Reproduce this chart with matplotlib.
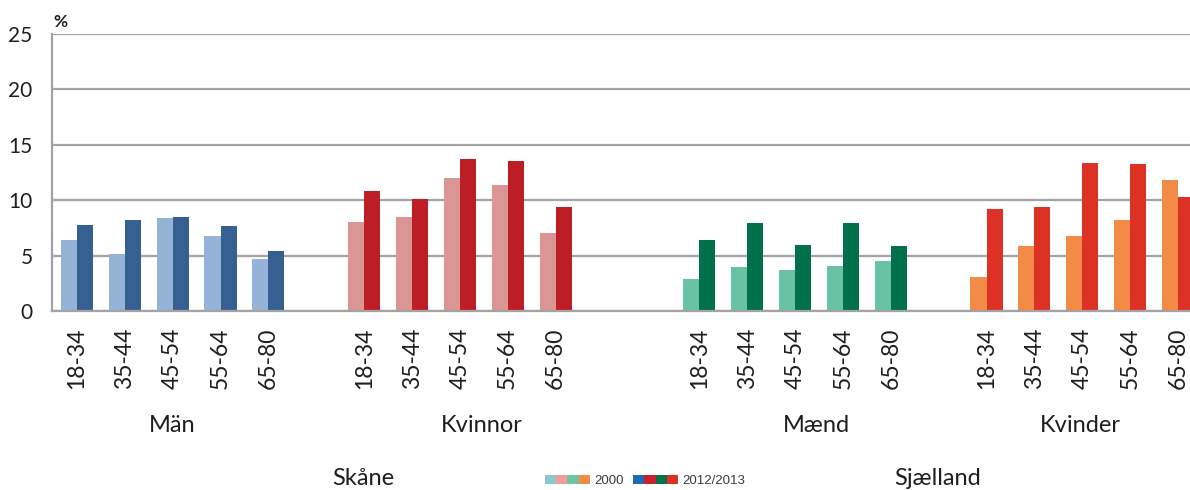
import matplotlib
matplotlib.use("Agg")
import matplotlib.pyplot as plt
from matplotlib.patches import Patch
from matplotlib.legend_handler import HandlerTuple

plt.rcParams['font.family'] = ['Lato', 'DejaVu Sans']

age_groups = ["18-34", "35-44", "45-54", "55-64", "65-80"]
groups = ["Män", "Kvinnor", "Mænd", "Kvinder"]
regions = ["Skåne", "Sjælland"]

man_2000 = [6.4, 5.1, 8.4, 6.8, 4.7]
man_2012 = [7.8, 8.2, 8.5, 7.7, 5.4]
kvinnor_2000 = [8.0, 8.5, 12.0, 11.4, 7.0]
kvinnor_2012 = [10.8, 10.1, 13.7, 13.5, 9.4]
maend_2000 = [2.9, 4.0, 3.7, 4.1, 4.5]
maend_2012 = [6.4, 7.9, 6.0, 7.9, 5.9]
kvinder_2000 = [3.1, 5.9, 6.8, 8.2, 11.8]
kvinder_2012 = [9.2, 9.4, 13.4, 13.3, 10.3]

series_2000 = [man_2000, kvinnor_2000, maend_2000, kvinder_2000]
series_2012 = [man_2012, kvinnor_2012, maend_2012, kvinder_2012]

colors_2000 = ["#95B3D7", "#D99694", "#69C3A3", "#F38A46"]
colors_2012 = ["#366092", "#BE1F26", "#00714A", "#DE3126"]
legend_2000 = ["#8CC6CF", "#F4999C", "#6CC4A0", "#F38A46"]
legend_2012 = ["#1C6BB7", "#C8202E", "#007348", "#DE3126"]
legend_labels = ["2000", "2012/2013"]

group_starts = [0, 6, 13, 19]
group_label_x = [2.0, 8.45, 15.45, 20.95]

fig = plt.figure(figsize=(11.9, 4.9), dpi=100)
ax = fig.add_axes([52 / 1190, (490 - 311) / 490, 1 - 52 / 1190, (311 - 34) / 490])

w = 0.335
grid_c = "#A3A3A3"
txt_c = "#1E1E1E"
ticks, labels = [], []
for gi, start in enumerate(group_starts):
    xs = [start + i for i in range(len(age_groups))]
    ax.bar([x - w / 2 for x in xs], series_2000[gi], width=w, color=colors_2000[gi], zorder=3)
    ax.bar([x + w / 2 for x in xs], series_2012[gi], width=w, color=colors_2012[gi], zorder=3)
    ticks += xs
    labels += age_groups
    ax.text(group_label_x[gi], -10.3, groups[gi], ha="center", va="center", fontsize=17, color=txt_c)

ax.set_xlim(-0.52, 23.25)
ax.set_ylim(0, 25)
ax.set_yticks([0, 5, 10, 15, 20, 25])
ax.set_xticks(ticks)
ax.set_xticklabels(labels, rotation=90, fontsize=16.5, color=txt_c)
ax.tick_params(axis="x", length=0, pad=12)
ax.tick_params(axis="y", length=0, pad=14, labelsize=15, labelcolor=txt_c)
ax.yaxis.grid(True, color=grid_c, linewidth=1.6, zorder=0)
ax.set_axisbelow(True)
for s in ["top", "right"]:
    ax.spines[s].set_visible(False)
ax.spines["left"].set_color(grid_c)
ax.spines["left"].set_linewidth(1.6)
ax.spines["bottom"].set_color(grid_c)
ax.spines["bottom"].set_linewidth(1.6)
ax.spines["bottom"].set_zorder(4)

fig.text(60 / 1190, 1 - 22 / 490, "%", fontsize=12.5, fontweight="bold", ha="center", va="center", color=txt_c)

fig.text(363 / 1190, 1 - 478 / 490, regions[0], fontsize=17, ha="center", va="center", color=txt_c)
fig.text(938 / 1190, 1 - 478 / 490, regions[1], fontsize=17, ha="center", va="center", color=txt_c)

h1 = tuple(Patch(facecolor=c, edgecolor="none") for c in legend_2000)
h2 = tuple(Patch(facecolor=c, edgecolor="none") for c in legend_2012)
leg = fig.legend([h1, h2], legend_labels, handler_map={tuple: HandlerTuple(ndivide=None, pad=0)},
                 loc="center", bbox_to_anchor=(645 / 1190, 1 - 481 / 490), ncol=2, frameon=False,
                 handlelength=3.4, handleheight=0.7, handletextpad=0.3, columnspacing=0.75,
                 labelcolor="#3A3A3A", prop={"family": "Liberation Sans", "size": 9.5})

fig.savefig("out.png", dpi=100)
